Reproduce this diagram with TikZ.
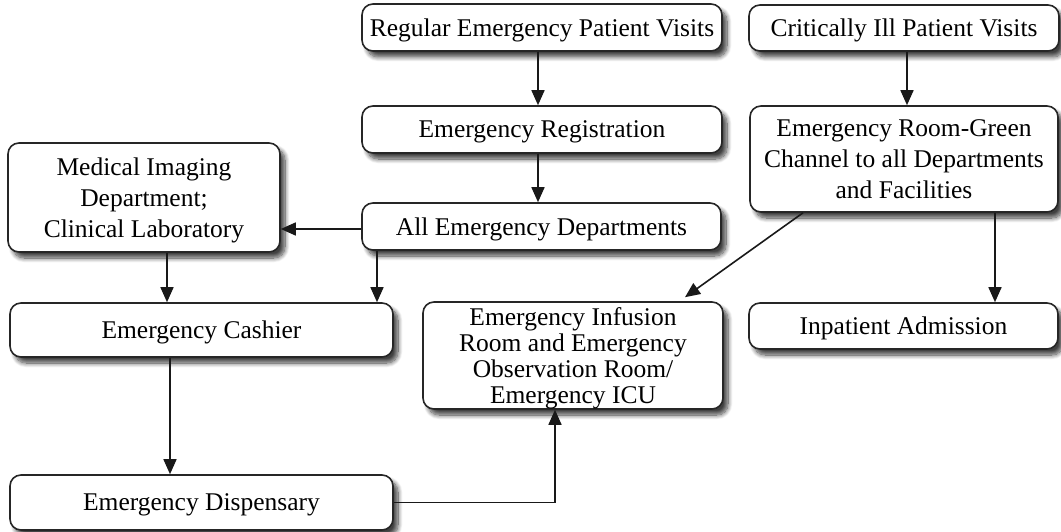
\documentclass[tikz,border=0pt]{standalone}
\usepackage{fontspec}
\setmainfont{Liberation Serif}
\usetikzlibrary{arrows.meta,shadows.blur}
\begin{document}
\begin{tikzpicture}[x=1pt,y=-1pt,
  box/.style={draw=black!85, line width=1.6pt, rounded corners=11pt, fill=white,
    align=center, inner sep=0pt, text depth=0pt, font=\fontsize{25.5}{31}\selectfont,
    blur shadow={shadow xshift=5pt, shadow yshift=-6pt, shadow blur steps=10,
      shadow blur radius=4.5pt, shadow opacity=75}},
  arr/.style={line width=1.6pt, draw=black!90,
    -{Triangle[length=15pt,width=13pt]}}]
\useasboundingbox (0,0) rectangle (1061,532);

% process boxes
\node[box, minimum width=360pt, minimum height=47pt] (reg)   at (542,27.5)  {Regular Emergency Patient Visits};
\node[box, minimum width=310pt, minimum height=46pt] (crit)  at (904,28)    {Critically Ill Patient Visits};
\node[box, minimum width=360pt, minimum height=47pt] (regis) at (542,129.5) {Emergency Registration};
\node[box, minimum width=308pt, minimum height=106pt] (green) at (904,159)  {Emergency Room-Green\\Channel to all Departments\\and Facilities};
\node[box, minimum width=272pt, minimum height=109pt] (med)  at (144,197.5) {Medical Imaging\\Department;\\Clinical Laboratory};
\node[box, minimum width=359pt, minimum height=47pt] (alld)  at (541.5,226.5) {All Emergency Departments};
\node[box, minimum width=383pt, minimum height=54pt] (cash)  at (201.5,330) {Emergency Cashier};
\node[box, minimum width=300pt, minimum height=107pt, font=\fontsize{25.5}{26}\selectfont] (infu) at (573,355.5)
  {Emergency Infusion\\Room and Emergency\\Observation Room/\\Emergency ICU};
\node[box, minimum width=309pt, minimum height=46pt] (inpat) at (903.5,326) {Inpatient Admission};
\node[box, minimum width=383pt, minimum height=55pt] (disp)  at (201.5,502.5) {Emergency Dispensary};

% connectors
\draw[arr] (reg.south -| 538,0) -- (regis.north -| 538,0);
\draw[arr] (regis.south -| 538,0) -- (alld.north -| 538,0);
\draw[arr] (crit.south -| 907,0) -- (green.north -| 907,0);
\draw[arr] (green.south -| 995,0) -- (inpat.north -| 995,0);
\draw[arr] (alld.west |- 0,229) -- (med.east |- 0,229);
\draw[arr] (med.south -| 167,0) -- (cash.north -| 167,0);
\draw[arr] (alld.south -| 377,0) -- (cash.north -| 377,0);
\draw[arr] (cash.south -| 170,0) -- (disp.north -| 170,0);
\draw[arr] (green.south -| 803,0) -- ([yshift=4pt]infu.north -| 685,0);
\draw[arr] (disp.east) -| (infu.south -| 555,0);
\end{tikzpicture}
\end{document}
